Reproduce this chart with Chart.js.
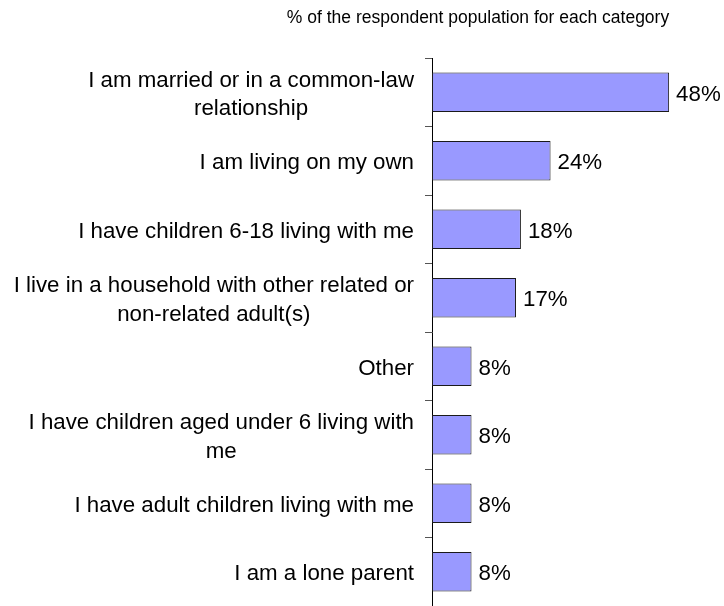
<!DOCTYPE html>
<html>
<head>
<meta charset="utf-8">
<script src="https://cdn.jsdelivr.net/npm/chart.js@4/dist/chart.umd.min.js"></script>
<style>
  html, body { margin: 0; padding: 0; background: #fff; }
  #wrap { width: 724px; height: 606px; position: relative; }
</style>
</head>
<body>
<div id="wrap"><canvas id="c"></canvas></div>
<script>
// Household situation categories (multi-line labels as arrays)
const categories = [
  ["I am married or in a common-law", "relationship"],
  ["I am living on my own"],
  ["I have children 6-18 living with me"],
  ["I live in a household with other related or", "non-related adult(s)"],
  ["Other"],
  ["I have children aged under 6 living with", "me"],
  ["I have adult children living with me"],
  ["I am a lone parent"]
];
// Share of respondents, in percent
const percentages = [48, 24, 18, 17, 8, 8, 8, 8];
const chartTitle = "% of the respondent population for each category";

const FONT = "'Liberation Sans', Arial, sans-serif";
const AXIS_LEFT = 432;

// Category labels: lines centred on each other, block right-aligned to the axis
const categoryLabels = {
  id: 'categoryLabels',
  afterDraw(chart) {
    const ctx = chart.ctx;
    const y = chart.scales.y;
    ctx.save();
    ctx.font = '22.3px ' + FONT;
    ctx.fillStyle = '#000';
    ctx.textBaseline = 'alphabetic';
    ctx.textAlign = 'center';
    const right = 414, lh = 28.5;
    categories.forEach((lines, i) => {
      const cy = y.getPixelForValue(i);
      const w = Math.max(...lines.map(l => ctx.measureText(l).width));
      const cx = right - w / 2;
      lines.forEach((l, j) => {
        ctx.fillText(l, cx, cy + 8.5 + (j - (lines.length - 1) / 2) * lh);
      });
    });
    ctx.restore();
  }
};

// Value labels to the right of each bar
const valueLabels = {
  id: 'valueLabels',
  afterDatasetsDraw(chart) {
    const ctx = chart.ctx;
    const meta = chart.getDatasetMeta(0);
    ctx.save();
    ctx.font = '22.3px ' + FONT;
    ctx.fillStyle = '#000';
    ctx.textAlign = 'left';
    ctx.textBaseline = 'alphabetic';
    meta.data.forEach((bar, i) => {
      ctx.fillText(percentages[i] + '%', bar.x + 7, bar.y + 8.5);
    });
    ctx.restore();
  }
};

// Title line above the plot
const topTitle = {
  id: 'topTitle',
  afterDraw(chart) {
    const ctx = chart.ctx;
    ctx.save();
    ctx.font = '17.5px ' + FONT;
    ctx.fillStyle = '#000';
    ctx.textAlign = 'center';
    ctx.textBaseline = 'alphabetic';
    ctx.fillText(chartTitle, 478, 23);
    ctx.restore();
  }
};

new Chart(document.getElementById('c'), {
  type: 'bar',
  data: {
    labels: categories,
    datasets: [{
      data: percentages,
      backgroundColor: '#9999FF',
      borderColor: '#1a1a1a',
      borderWidth: 1,
      borderSkipped: false,
      categoryPercentage: 1,
      barPercentage: 0.58
    }]
  },
  options: {
    indexAxis: 'y',
    responsive: true,
    maintainAspectRatio: false,
    animation: false,
    events: [],
    layout: { padding: { top: 58, right: 45, bottom: 0, left: 0 } },
    plugins: {
      legend: { display: false },
      title: { display: false },
      tooltip: { enabled: false }
    },
    scales: {
      x: {
        display: false,
        min: 0,
        max: 50
      },
      y: {
        position: 'left',
        grid: {
          display: true,
          offset: true,
          drawOnChartArea: false,
          drawTicks: true,
          tickLength: 7,
          color: '#555'
        },
        border: { display: true, color: '#000', width: 1 },
        ticks: { display: false },
        afterFit(scale) { scale.width = AXIS_LEFT; }
      }
    }
  },
  plugins: [categoryLabels, valueLabels, topTitle]
});
</script>
</body>
</html>
